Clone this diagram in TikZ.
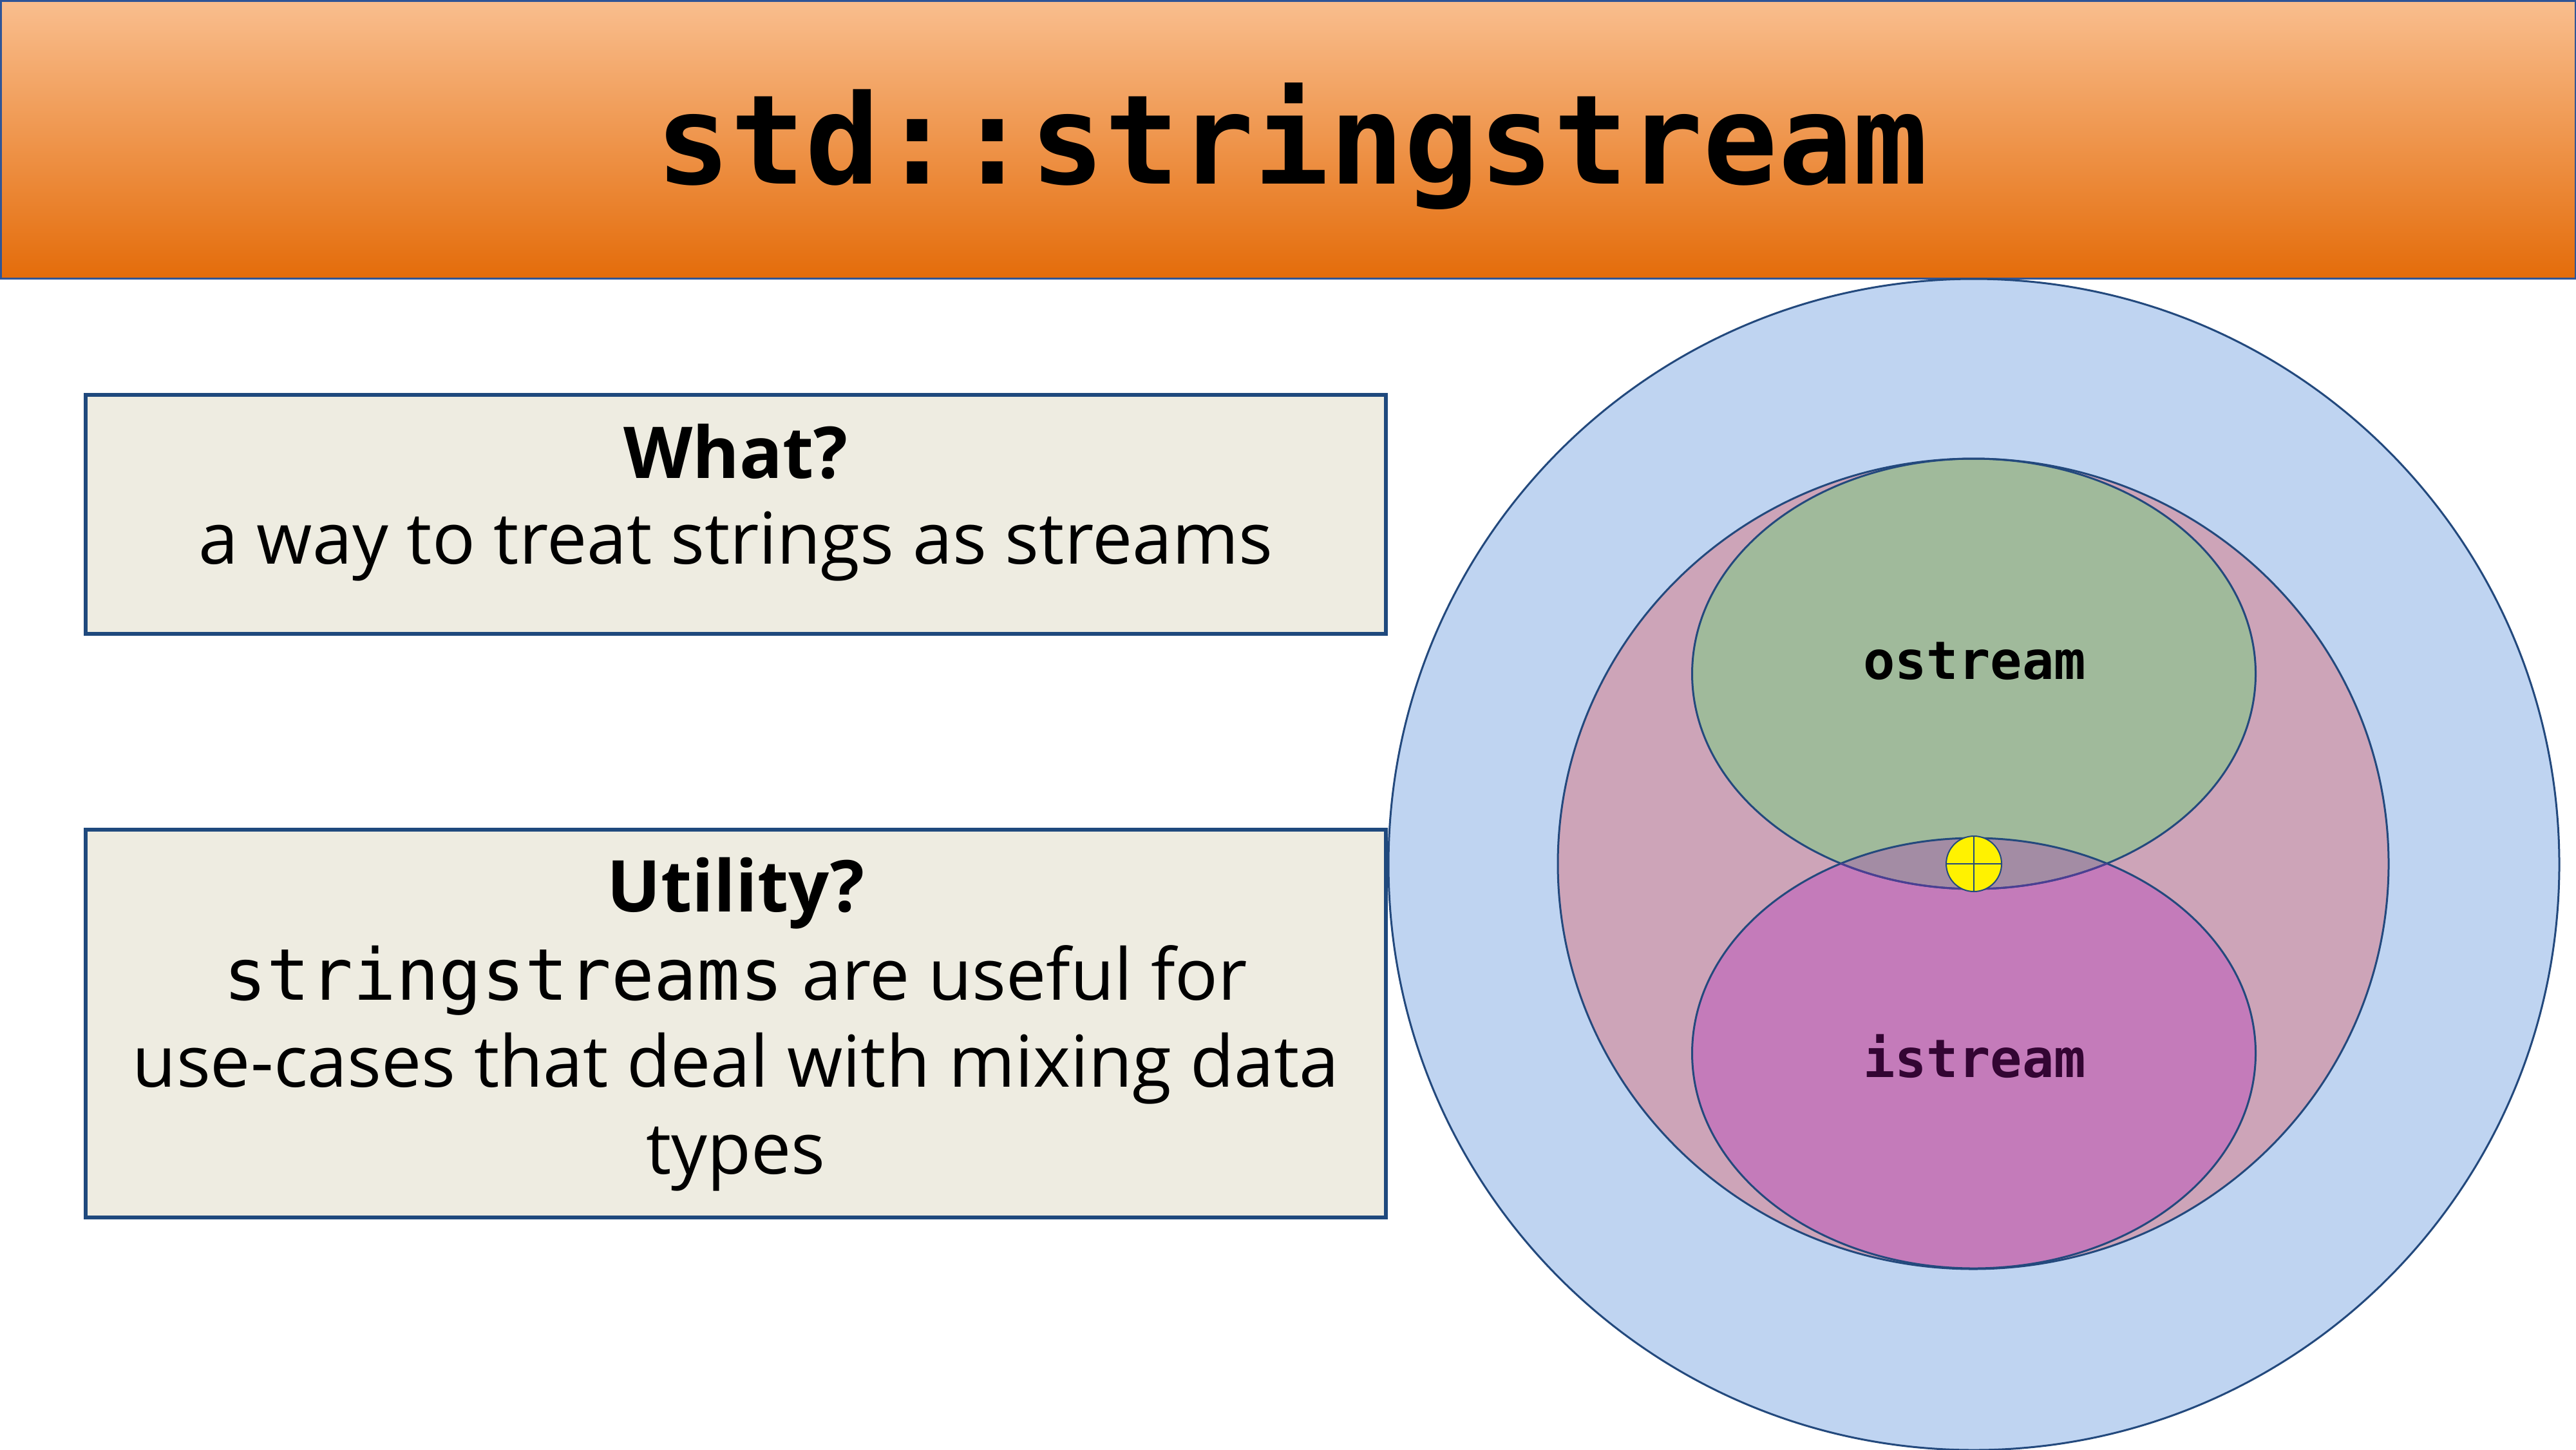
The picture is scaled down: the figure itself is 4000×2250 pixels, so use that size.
\documentclass[tikz,border=0pt]{standalone}
\usepackage{fontspec}
\setmainfont{Open Sans}
\newfontfamily\codefont{DejaVu Sans Mono}
\definecolor{hdrtop}{RGB}{249,190,142}
\definecolor{hdrbot}{RGB}{228,108,10}
\definecolor{hdrline}{RGB}{47,85,151}
\definecolor{boxfill}{RGB}{238,236,225}
\definecolor{boxline}{RGB}{31,73,125}
\definecolor{outline}{RGB}{35,73,125}
\definecolor{outerfill}{RGB}{191,212,241}
\definecolor{pinkfill}{RGB}{205,164,184}
\definecolor{greenfill}{RGB}{160,186,155}
\definecolor{magfill}{RGB}{196,123,186}
\definecolor{lensfill}{RGB}{163,140,164}
\definecolor{lensarc}{RGB}{75,63,147}
\definecolor{istreamcol}{RGB}{51,5,51}
\tikzset{
  infobox/.style={draw=boxline, line width=1.4pt, fill=boxfill, inner sep=0pt},
  txt/.style={inner sep=0pt, anchor=base, font=\fontsize{27.75}{33}\selectfont},
  codelabel/.style={inner sep=0pt, anchor=base, font=\codefont\bfseries\fontsize{20.5}{24}\selectfont},
  shapeline/.style={draw=outline, line width=0.75pt}
}
\begin{document}
\begin{tikzpicture}[x=0.25pt,y=-0.25pt]
\useasboundingbox (0,0) rectangle (4000,2250);
\fill[white] (0,0) rectangle (4000,2250);
% header
\path[top color=hdrtop, bottom color=hdrbot, draw=hdrline, line width=0.75pt] (1,1) rectangle (3999,432);
\node[inner sep=0pt, anchor=base, font=\codefont\bfseries\fontsize{48.25}{58}\selectfont] (title) at (2006,285) {std::stringstream};
% boxes
\node[infobox, minimum width=504.75pt, minimum height=92.75pt] (whatbox) at (1142.5,798.5) {};
\node[txt] (whatq) at (1142.5,742) {\bfseries What?};
\node[txt] (whata) at (1142.5,875) {a way to treat strings as streams};
\node[infobox, minimum width=504.75pt, minimum height=150.5pt] (utilbox) at (1142.5,1589) {};
\node[txt] (utilq) at (1142.5,1415) {\bfseries Utility?};
\node[txt] (util1) at (1142.5,1552) {{\codefont stringstreams} are useful for};
\node[txt] (util2) at (1142.5,1687) {use-cases that deal with mixing data};
\node[txt] (util3) at (1142.5,1822) {types};
% circles
\coordinate (oc) at (3065,1342);
\coordinate (pc) at (3064,1341);
\coordinate (gc) at (3065,1046);
\coordinate (mc) at (3065,1635);
\coordinate (yc) at (3065,1341);
\fill[outerfill] (oc) circle [x radius=909, y radius=909];
\fill[pinkfill] (pc) ellipse [x radius=645, y radius=629];
\fill[greenfill] (gc) ellipse [x radius=437.5, y radius=334];
\fill[magfill] (mc) ellipse [x radius=437.5, y radius=334];
\begin{scope}
  \clip (gc) ellipse [x radius=437.5, y radius=334];
  \fill[lensfill] (mc) ellipse [x radius=437.5, y radius=334];
\end{scope}
\draw[shapeline] (oc) circle [x radius=909, y radius=909];
\draw[shapeline] (pc) ellipse [x radius=645, y radius=629];
\draw[shapeline] (gc) ellipse [x radius=437.5, y radius=334];
\draw[shapeline] (mc) ellipse [x radius=437.5, y radius=334];
\begin{scope}
  \clip (mc) ellipse [x radius=437.5, y radius=334];
  \draw[draw=lensarc, line width=0.75pt] (gc) ellipse [x radius=437.5, y radius=334];
\end{scope}
% yellow marker
\draw[fill=yellow, draw=outline, line width=0.5pt] (yc) circle [x radius=43, y radius=43];
\draw[draw=outline, line width=0.5pt] (3022,1341) -- (3108,1341) (3065,1298) -- (3065,1384);
% labels
\node[codelabel] (ostream) at (3066,1054) {ostream};
\node[codelabel, text=istreamcol] (istream) at (3066,1672) {istream};
\end{tikzpicture}
\end{document}
